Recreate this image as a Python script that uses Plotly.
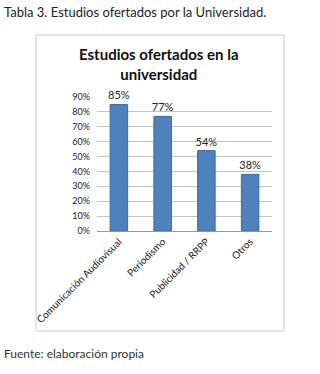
import plotly.graph_objects as go

categories = ["Comunicación Audiovisual", "Periodismo", "Publicidad / RRPP", "Otros"]
values = [0.85, 0.77, 0.54, 0.38]
tick_vals = [0, 0.1, 0.2, 0.3, 0.4, 0.5, 0.6, 0.7, 0.8, 0.9]
tick_text = ["0%", "10%", "20%", "30%", "40%", "50%", "60%", "70%", "80%", "90%"]
labels = ["85%", "77%", "54%", "38%"]

W, H = 320, 374
font = "Lato, 'Open Sans', sans-serif"

fig = go.Figure(go.Bar(
    x=categories, y=values, text=labels, textposition="outside",
    constraintext="none",
    textfont=dict(size=11, color="#222", family=font),
    marker=dict(color="#4F81BD", line=dict(color="#3A6A9F", width=1)),
    cliponaxis=False,
))

fig.update_layout(
    width=W, height=H, margin=dict(l=0, r=0, t=0, b=0, autoexpand=False),
    paper_bgcolor="white", plot_bgcolor="white",
    showlegend=False, bargap=0.6,
    font=dict(family=font, color="#222"),
    xaxis=dict(domain=[97/W, 272/W], tickangle=-45, tickfont=dict(size=10, color="#222"),
               automargin=False,
               showline=True, linecolor="#999", linewidth=1, ticks="", showgrid=False),
    yaxis=dict(domain=[(H-231)/H, (H-97)/H], range=[0, 0.9], tickvals=tick_vals, ticktext=tick_text,
               automargin=False, ticklabelstandoff=6,
               tickfont=dict(size=9, color="#222"), showgrid=True, gridcolor="#C4C4C4", gridwidth=1,
               zeroline=False, showline=False, ticks=""),
    shapes=[dict(type="rect", xref="paper", yref="paper",
                 x0=36/W, x1=284/W, y0=(H-331)/H, y1=(H-35)/H,
                 line=dict(color="#C8C8C8", width=1))],
    annotations=[
        dict(text="Tabla 3. Estudios ofertados por la Universidad.", xref="paper", yref="paper",
             x=2/W, y=(H-12)/H, xanchor="left", yanchor="middle", showarrow=False,
             font=dict(size=13, color="#222", family=font)),
        dict(text="<b>Estudios ofertados en la<br>universidad</b>", xref="paper", yref="paper",
             x=159/W, y=(H-64)/H, xanchor="center", yanchor="middle", showarrow=False,
             font=dict(size=15, color="#111", family=font)),
        dict(text="Fuente: elaboración propia", xref="paper", yref="paper",
             x=2/W, y=(H-353)/H, xanchor="left", yanchor="middle", showarrow=False,
             font=dict(size=12, color="#333", family=font)),
    ],
)

fig.write_html("out.html", config={"displayModeBar": False},
               post_script="document.body.style.margin='0';document.body.style.padding='0';")
